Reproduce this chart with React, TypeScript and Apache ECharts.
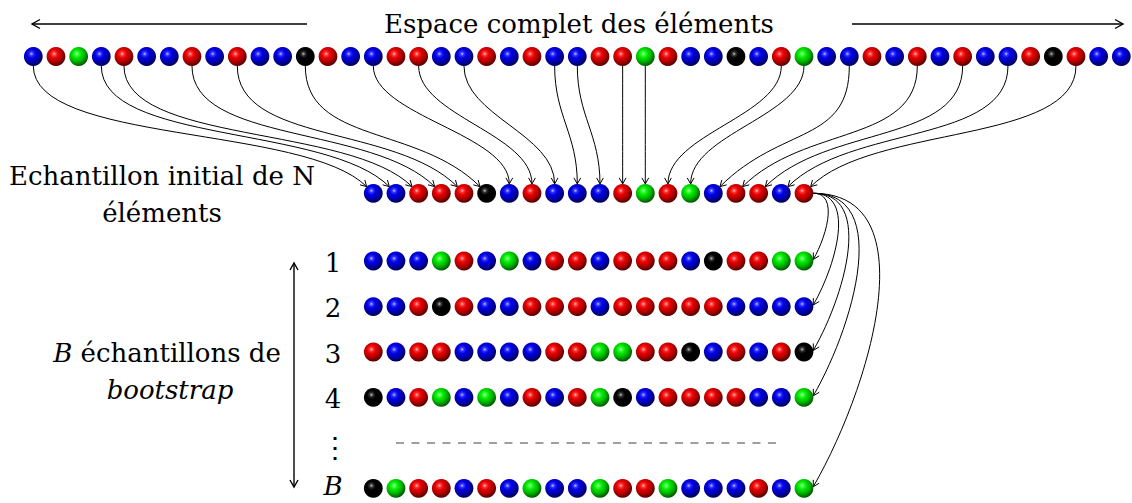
import React, { useEffect, useRef } from "react";
import * as echarts from "echarts";

// ---------- data ----------
const population = [
  "B","R","G","B","R","B","B","R","B","R","B","B","K","R","B","B",
  "R","R","B","B","R","B","R","B","B","R","R","G","R","B","B","K",
  "B","R","G","B","B","R","B","R","B","R","B","B","R","K","R","B","B",
];
// population indices drawn into the initial sample (in sample order)
const drawnIndices = [0, 3, 4, 7, 9, 12, 15, 17, 19, 23, 24, 26, 27, 33, 34, 36, 39, 41, 43, 46];
const bootstrapLabels = ["1", "2", "3", "4", "B"];
const bootstrap1 = ["B","B","B","G","R","B","G","B","R","R","B","R","R","R","B","K","R","R","G","G"];
const bootstrap2 = ["B","B","R","K","R","B","B","R","R","R","B","R","R","R","R","R","B","B","B","B"];
const bootstrap3 = ["R","B","R","R","B","B","B","B","R","R","G","G","R","R","K","B","R","B","R","K"];
const bootstrap4 = ["K","B","R","G","B","G","B","R","B","R","G","K","B","R","R","R","R","B","B","G"];
const bootstrapB = ["K","G","R","R","B","R","B","G","B","B","G","R","R","G","B","B","B","R","B","G"];
const bootstrapRows = [bootstrap1, bootstrap2, bootstrap3, bootstrap4, bootstrapB];

// ---------- layout ----------
const W = 1132;
const H = 503;
const PITCH = 22.667;
const X0 = 33.3;
const X_MIN = -X0 / PITCH;
const X_MAX = X_MIN + W / PITCH;
const SAMPLE_OFFSET = 15;
const TOP_Y = 56.5;
const SAMPLE_Y = 193.3;
const BOOT_Y = [261, 306.6, 352, 397.4, 488.3];
const DASH_Y = 443;
const R = 9.4;
const FONT = '"DejaVu Serif", serif';

const BASE: Record<string, string> = { B: "#0000ff", R: "#ff0000", G: "#00ff00", K: "#000000" };

function mix(c1: string, c2: string, t: number) {
  const p = (c: string) => [1, 3, 5].map((i) => parseInt(c.slice(i, i + 2), 16));
  const a = p(c1), b = p(c2);
  return "#" + a.map((v, i) => Math.round(v * t + b[i] * (1 - t)).toString(16).padStart(2, "0")).join("");
}

function ballGradient(code: string) {
  const c = BASE[code];
  return {
    type: "radial", x: 0.4, y: 0.36, r: 0.64,
    colorStops: [
      { offset: 0, color: mix(c, "#ffffff", 0.25) },
      { offset: 0.16, color: mix(c, "#ffffff", 0.8) },
      { offset: 0.36, color: mix(c, "#000000", 0.9) },
      { offset: 0.62, color: mix(c, "#000000", 0.72) },
      { offset: 1, color: mix(c, "#000000", 0.35) },
    ],
  };
}

function arrowHead(tip: number[], from: number[], len = 6, half = 3.4) {
  const dx = tip[0] - from[0], dy = tip[1] - from[1];
  const L = Math.hypot(dx, dy) || 1;
  const ux = dx / L, uy = dy / L;
  const nx = -uy, ny = ux;
  return [
    [tip[0] - len * ux + half * nx, tip[1] - len * uy + half * ny],
    [tip[0], tip[1]],
    [tip[0] - len * ux - half * nx, tip[1] - len * uy - half * ny],
  ];
}

const LINE = { stroke: "#000", lineWidth: 1, fill: "none" };
const THICK = { stroke: "#000", lineWidth: 1.4, fill: "none" };

export default function App() {
  const ref = useRef<HTMLDivElement>(null);
  useEffect(() => {
    if (!ref.current) return;
    const chart = echarts.init(ref.current, undefined, { renderer: "svg" });

    const sample = drawnIndices.map((i) => population[i]);
    const pts: Record<string, number[][]> = { B: [], R: [], G: [], K: [] };
    population.forEach((c, i) => pts[c].push([i, TOP_Y]));
    sample.forEach((c, j) => pts[c].push([SAMPLE_OFFSET + j, SAMPLE_Y]));
    bootstrapRows.forEach((row, r) => row.forEach((c, j) => pts[c].push([SAMPLE_OFFSET + j, BOOT_Y[r]])));

    const scatter = Object.keys(pts).map((c) => ({
      type: "scatter", symbol: "circle", symbolSize: 2 * R, silent: true, z: 5,
      itemStyle: { color: ballGradient(c), opacity: 1 },
      data: pts[c],
    }));

    const nSample = drawnIndices.length;
    const topCurves = {
      type: "custom", z: 3, silent: true,
      data: drawnIndices.map((src, j) => [src, TOP_Y, SAMPLE_OFFSET + j, SAMPLE_Y, j]),
      renderItem: (_p: any, api: any) => {
        const s = api.coord([api.value(0), api.value(1)]);
        const c = api.coord([api.value(2), api.value(3)]);
        const j = api.value(4);
        const start = [s[0], s[1] + R];
        let tip: number[], p1: number[], p2: number[];
        const d = R * 0.7071;
        if (j < 6) {
          tip = [c[0] - d, c[1] - d];
          p1 = [start[0], start[1] + 78];
          p2 = [tip[0] - 62, tip[1] - 62];
        } else if (j > 14) {
          tip = [c[0] + d, c[1] - d];
          p1 = [start[0], start[1] + 78];
          p2 = [tip[0] + 62, tip[1] - 62];
        } else {
          tip = [c[0], c[1] - R];
          p1 = [start[0], start[1] + 50];
          p2 = [tip[0], tip[1] - 50];
        }
        return {
          type: "group",
          children: [
            { type: "bezierCurve", shape: { x1: start[0], y1: start[1], cpx1: p1[0], cpy1: p1[1], cpx2: p2[0], cpy2: p2[1], x2: tip[0], y2: tip[1] }, style: LINE },
            { type: "polyline", shape: { points: arrowHead(tip, p2) }, style: LINE },
          ],
        };
      },
    };

    const bootCurves = {
      type: "custom", z: 3, silent: true,
      data: BOOT_Y.map((y) => [SAMPLE_OFFSET + nSample - 1, SAMPLE_Y, SAMPLE_OFFSET + nSample - 1, y]),
      renderItem: (_p: any, api: any) => {
        const s = api.coord([api.value(0), api.value(1)]);
        const c = api.coord([api.value(2), api.value(3)]);
        const start = [s[0] + R, s[1]];
        const tip = [c[0] + R * 0.99, c[1] - R * 0.17];
        const dist = Math.hypot(tip[0] - start[0], tip[1] - start[1]);
        const k = 0.3915 * dist;
        const p1 = [start[0] + k, start[1]];
        const p2 = [tip[0] + k * 0.5, tip[1] - k * 0.866];
        return {
          type: "group",
          children: [
            { type: "bezierCurve", shape: { x1: start[0], y1: start[1], cpx1: p1[0], cpy1: p1[1], cpx2: p2[0], cpy2: p2[1], x2: tip[0], y2: tip[1] }, style: LINE },
            { type: "polyline", shape: { points: arrowHead(tip, p2) }, style: LINE },
          ],
        };
      },
    };

    const dash = {
      type: "line", silent: true, symbol: "none", z: 2,
      lineStyle: { color: "#808080", width: 1.5, type: [8, 7.5] },
      data: [[SAMPLE_OFFSET + 1, DASH_Y], [SAMPLE_OFFSET + nSample - 2, DASH_Y]],
    };

    const txt = (x: number, y: number, text: string, extra: any = {}) => ({
      type: "text", x, y, silent: true,
      style: {
        text, fill: "#000", fontSize: 26, fontFamily: FONT,
        textAlign: "center", textVerticalAlign: "middle", verticalAlign: "middle",
        ...extra,
      },
    });

    const arrowX = 294, arrowTop = 263, arrowBot = 487;
    const graphic: any[] = [
      txt(579, 24, "Espace complet des éléments"),
      { type: "line", shape: { x1: 307, y1: 24, x2: 32, y2: 24 }, style: THICK },
      { type: "polyline", shape: { points: arrowHead([32, 24], [307, 24], 8, 4.5) }, style: THICK },
      { type: "line", shape: { x1: 852, y1: 24, x2: 1123, y2: 24 }, style: THICK },
      { type: "polyline", shape: { points: arrowHead([1123, 24], [852, 24], 8, 4.5) }, style: THICK },
      txt(162, 176, "Echantillon initial de N"),
      txt(162, 213, "éléments"),
      txt(167, 353, "{i|B} échantillons de", { rich: { i: { fontStyle: "italic", fontSize: 26, fontFamily: FONT } } }),
      txt(170, 390, "bootstrap", { fontStyle: "italic" }),
      { type: "line", shape: { x1: arrowX, y1: arrowTop, x2: arrowX, y2: arrowBot }, style: THICK },
      { type: "polyline", shape: { points: arrowHead([arrowX, arrowTop], [arrowX, arrowBot], 7, 4) }, style: THICK },
      { type: "polyline", shape: { points: arrowHead([arrowX, arrowBot], [arrowX, arrowTop], 7, 4) }, style: THICK },
    ];
    bootstrapLabels.forEach((lab, r) => {
      const isB = lab === "B";
      graphic.push(txt(333, isB ? BOOT_Y[r] - 2 : BOOT_Y[r] + 1.5, lab, isB ? { fontStyle: "italic" } : {}));
    });
    graphic.push(txt(335, DASH_Y + 4, "⋮", { fontSize: 28 }));

    chart.setOption({
      animation: false,
      grid: { left: 0, right: 0, top: 0, bottom: 0, containLabel: false },
      xAxis: { type: "value", min: X_MIN, max: X_MAX, show: false },
      yAxis: { type: "value", min: 0, max: H, inverse: true, show: false },
      series: [topCurves, bootCurves, dash, ...scatter],
      graphic,
    });
    return () => chart.dispose();
  }, []);
  return <div ref={ref} style={{ position: "absolute", left: 0, top: 0, width: W, height: H, background: "#fff" }} />;
}
